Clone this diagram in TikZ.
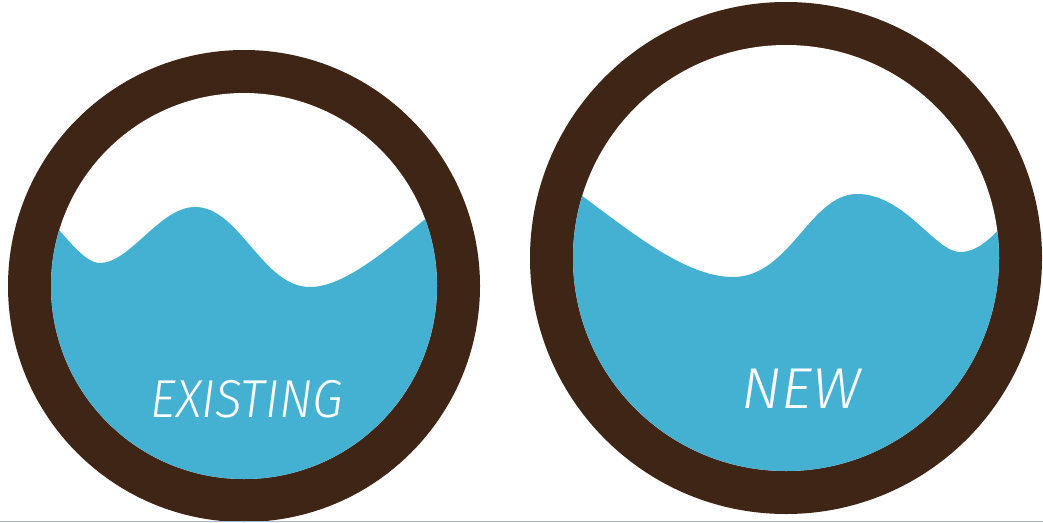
\documentclass[tikz,border=0pt]{standalone}
\usepackage{fontspec}
\newfontfamily\tankfont{Fira Sans}[UprightFont=* Light, ItalicFont=* Light Italic]
\definecolor{tankbrown}{HTML}{3F2515}
\definecolor{waterblue}{HTML}{44B1D3}
\definecolor{edgegray}{HTML}{A3B9CB}

\begin{document}
\begin{tikzpicture}[x=0.025cm, y=0.025cm,
  tankname/.style={text=white, inner sep=0pt, anchor=base,
    font=\tankfont\itshape\fontsize{38}{38}\selectfont}]

\useasboundingbox (0,0) rectangle (1043,522);
\fill[white] (0,0) rectangle (1043,522);

% existing tank
\fill[tankbrown] (244,236) circle [radius=236];
\fill[white] (244,236) circle [radius=193];
\begin{scope}
\clip (244,236) circle [radius=193];
\fill[waterblue] (40,314) .. controls (70,280) and (85,259) .. (100,259)
  .. controls (130,259) and (160,315) .. (195,315)
  .. controls (240,315) and (262,235) .. (310,235)
  .. controls (350,235) and (400,285) .. (450,322)
  -- (450,0) -- (40,0) -- cycle;
\end{scope}
\node (existing) [tankname] at (247,105) {\scalebox{0.93}[1]{EXISTING}};

% new tank
\fill[tankbrown] (786,264) circle [radius=256];
\fill[white] (786,264) circle [radius=213];
\begin{scope}
\clip (786,264) circle [radius=213];
\fill[waterblue] (560,342) .. controls (620,300) and (680,245) .. (733,245)
  .. controls (790,245) and (810,328) .. (857,328)
  .. controls (905,328) and (935,270) .. (960,270)
  .. controls (980,270) and (995,288) .. (1015,310)
  -- (1015,0) -- (560,0) -- cycle;
\end{scope}
\node (new) [tankname, font=\tankfont\itshape\fontsize{41}{41}\selectfont]
  at (801,114) {\scalebox{1.04}[1]{NEW}};

\draw[edgegray, line width=0.6pt] (0,0.5) -- (1043,0.5);

\end{tikzpicture}
\end{document}
